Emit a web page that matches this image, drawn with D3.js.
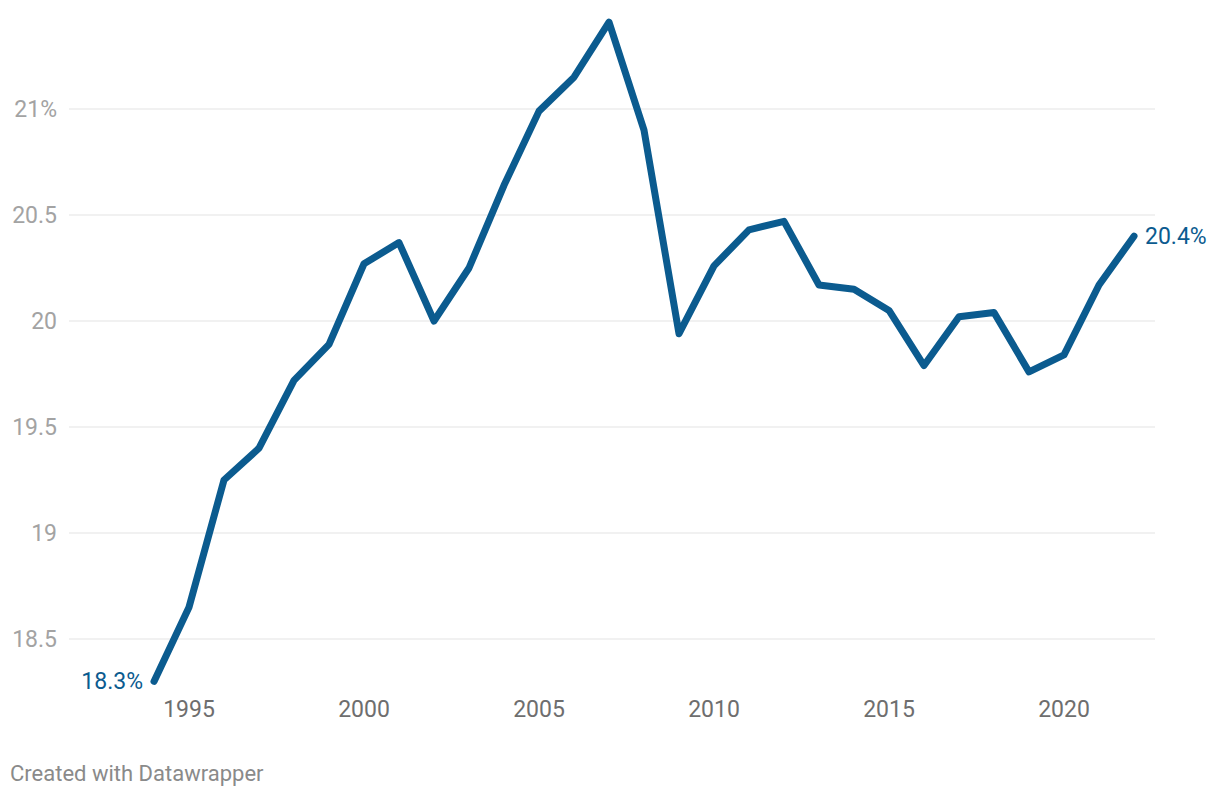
<!DOCTYPE html>
<html><head><meta charset="utf-8">
<script src="https://cdn.jsdelivr.net/npm/d3@7"></script>
<style>body{margin:0;background:#fff;}svg{display:block;font-family:Roboto,"Noto Sans",sans-serif;}</style>
</head><body>
<svg id="c" width="1220" height="798"></svg>
<script>
const years = [1994,1995,1996,1997,1998,1999,2000,2001,2002,2003,2004,2005,2006,2007,2008,2009,2010,2011,2012,2013,2014,2015,2016,2017,2018,2019,2020,2021,2022];
const values = [18.30,18.65,19.25,19.40,19.72,19.89,20.27,20.37,20.00,20.25,20.64,20.99,21.15,21.41,20.90,19.94,20.26,20.43,20.47,20.17,20.15,20.05,19.79,20.02,20.04,19.76,19.84,20.17,20.40];
const yTicks = [18.5,19,19.5,20,20.5,21];
const yTickLabels = ["18.5","19","19.5","20","20.5","21%"];
const xTicks = [1995,2000,2005,2010,2015,2020];

const svg = d3.select("#c");
const x = d3.scaleLinear().domain([1994,2022]).range([154,1134]);
const y = d3.scaleLinear().domain([18.5,21]).range([639,109]);

const grid = svg.append("g");
yTicks.forEach((t,i)=>{
  grid.append("line").attr("x1",69).attr("x2",1155).attr("y1",y(t)).attr("y2",y(t))
    .attr("stroke","#e3e3e3").attr("stroke-width",1);
  grid.append("text").attr("x",57).attr("y",y(t)).attr("dy","0.35em").attr("text-anchor","end")
    .attr("fill","#a3a3a3").attr("font-size",23).text(yTickLabels[i]);
});
xTicks.forEach(t=>{
  svg.append("text").attr("x",x(t)).attr("y",717).attr("text-anchor","middle")
    .attr("fill","#6e6e6e").attr("font-size",23).text(t);
});

const line = d3.line().x((d,i)=>x(years[i])).y(d=>y(d));
svg.append("path").datum(values).attr("d",line).attr("fill","none")
  .attr("stroke","#0b5b8f").attr("stroke-width",7).attr("stroke-linejoin","round").attr("stroke-linecap","round");

svg.append("text").attr("x",x(years[0])-11).attr("y",y(values[0])).attr("dy","0.35em").attr("text-anchor","end")
  .attr("fill","#0b5b8f").attr("font-size",23).text(values[0].toFixed(1)+"%");
const n = years.length-1;
svg.append("text").attr("x",x(years[n])+11).attr("y",y(values[n])).attr("dy","0.35em").attr("text-anchor","start")
  .attr("fill","#0b5b8f").attr("font-size",23).text(values[n].toFixed(1)+"%");

svg.append("text").attr("x",10).attr("y",781).attr("fill","#8a8a8a").attr("font-size",22).text("Created with Datawrapper");
</script>
</body></html>
